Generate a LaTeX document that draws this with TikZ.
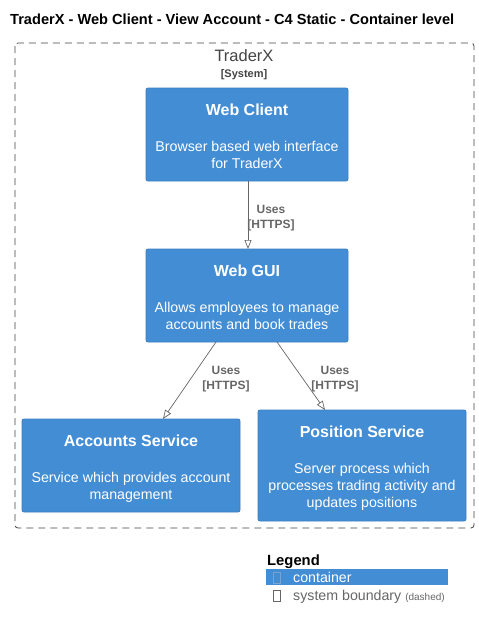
\documentclass[tikz,border=0pt]{standalone}
\usepackage{fontspec}
\setmainfont{Liberation Sans}
\usetikzlibrary{arrows.meta}
\definecolor{cfill}{HTML}{438DD5}
\definecolor{cline}{HTML}{3C7FC0}
\definecolor{arr}{HTML}{666666}
\definecolor{bnd}{HTML}{444444}
\begin{document}
\begin{tikzpicture}[x=1pt,y=-1pt,
  cbox/.style={draw=cline,fill=cfill,rounded corners=2pt,line width=0.8pt},
  ttl/.style={text=white,font=\fontsize{16}{19}\selectfont\bfseries,anchor=base},
  dsc/.style={text=white,font=\fontsize{14.2}{17}\selectfont,anchor=base,align=center},
  rel/.style={draw=arr,line width=0.7pt,-{Triangle[open,length=9pt,width=7pt]}},
  lbl/.style={text=arr,font=\fontsize{12}{15}\selectfont\bfseries,align=center,anchor=base}]
\useasboundingbox (0,0) rectangle (479,629);
\node[anchor=base west,font=\fontsize{14.6}{17}\selectfont\bfseries,inner sep=0] (title) at (10,24) {TraderX - Web Client - View Account - C4 Static - Container level};
% boundary
\draw[bnd,line width=0.8pt,dash pattern=on 7pt off 5pt,rounded corners=3pt] (15,43) rectangle (474,528);
\node[text=bnd,font=\fontsize{16.5}{19}\selectfont,anchor=base] (bname) at (244,61) {TraderX};
\node[text=bnd,font=\fontsize{11}{13}\selectfont\bfseries,anchor=base] (btype) at (244,77) {[System]};
% boxes
\draw[cbox] (146,88) rectangle (348,181);
\node[ttl] (wct) at (247,115) {Web Client};
\node[dsc] at (247,151) {Browser based web interface};
\node[dsc] at (247,168) {for TraderX};
\draw[cbox] (146,249) rectangle (348,342);
\node[ttl] (gut) at (247,276) {Web GUI};
\node[dsc] at (247,312) {Allows employees to manage};
\node[dsc] at (247,329) {accounts and book trades};
\draw[cbox] (22,419) rectangle (240,512);
\node[ttl] (act) at (131,446) {Accounts Service};
\node[dsc] at (131,482) {Service which provides account};
\node[dsc] at (131,499) {management};
\draw[cbox] (258,410) rectangle (466,521);
\node[ttl] (pst) at (362,437) {Position Service};
\node[dsc] at (362,473) {Server process which};
\node[dsc] at (362,490) {processes trading activity and};
\node[dsc] at (362,507) {updates positions};
% anchors
\coordinate (wcb) at (248,181);
\coordinate (gutop) at (248,249);
\coordinate (gul) at (216,342);
\coordinate (gur) at (277,342);
\coordinate (acc) at (163,419);
\coordinate (pos) at (325,410);
\draw[rel] (wcb) -- (gutop);
\draw[rel] (gul) -- (acc);
\draw[rel] (gur) -- (pos);
\node[lbl] at (271,213) {Uses};
\node[lbl] at (271,228) {[HTTPS]};
\node[lbl] at (226,374) {Uses};
\node[lbl] at (226,389) {[HTTPS]};
\node[lbl] at (335,374) {Uses};
\node[lbl] at (335,389) {[HTTPS]};
% legend
\node[anchor=base west,font=\fontsize{14.8}{17}\selectfont\bfseries,inner sep=0] (leg) at (267,565) {Legend};
\fill[cfill] (266,569) rectangle (448,585);
\draw[cline!70!white,line width=0.5pt] (273.5,572) rectangle (280.5,583);
\node[anchor=base west,text=white,font=\fontsize{14.2}{16}\selectfont,inner sep=0] (lc) at (293,582) {container};
\draw[arr,line width=0.6pt] (273.5,590) rectangle (280.5,601);
\node[anchor=base west,text=arr,font=\fontsize{14.2}{16}\selectfont,inner sep=0] (ls) at (293,600) {system boundary \fontsize{10}{12}\selectfont(dashed)};
\end{tikzpicture}
\end{document}
